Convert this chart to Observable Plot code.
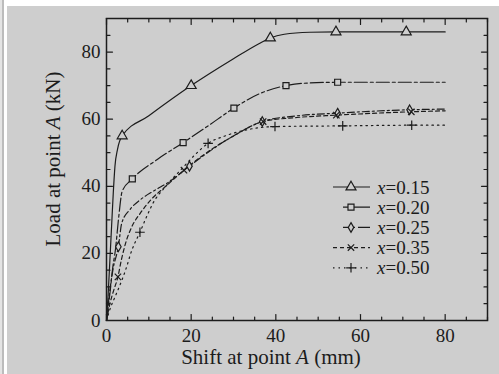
<!DOCTYPE html>
<html><head><meta charset="utf-8">
<script src="https://cdn.jsdelivr.net/npm/d3@7"></script>
<script src="https://cdn.jsdelivr.net/npm/@observablehq/plot@0.6"></script>
<style>
html,body{margin:0;padding:0;background:#fff;width:499px;height:374px;overflow:hidden;}
#bg{position:absolute;left:7px;top:6px;width:492px;height:368px;background:#cecece;}
#s1{position:absolute;left:0;top:0;width:2px;height:374px;background:#e4e4e4;}
#s2{position:absolute;left:2px;top:0;width:2px;height:374px;background:#bcbcbc;}
#chart{position:absolute;left:0;top:0;}
#chart svg, #chart svg text, #chart svg tspan{font-family:"Liberation Serif","Times New Roman",serif !important;}
</style></head>
<body>
<div id="bg"></div><div id="s1"></div><div id="s2"></div>
<div id="chart"></div>
<script>
// ---- data ----
const seriesLabels = ["0.15", "0.20", "0.25", "0.35", "0.50"];
const shift015 = [0, 0.4, 0.8, 1.2, 1.6, 2.0, 2.6, 3.7, 10, 20, 30, 36, 38.7, 42, 48, 54.2, 70.8, 80];
const load015  = [0, 8, 18, 28, 38, 46, 51, 55, 61, 70, 78, 82.5, 84.2, 85.3, 85.9, 86, 86, 86];
const shift020 = [0, 0.8, 1.5, 2.1, 2.9, 3.7, 6.1, 12, 18.1, 24, 30.1, 36, 42.4, 48, 54.6, 80];
const load020  = [0, 8, 16, 21, 31, 38.5, 42.2, 48, 53, 58, 63.3, 67.5, 70, 70.8, 71, 71];
const shift025 = [0, 0.7, 1.5, 2.8, 3.6, 5.5, 8, 11, 15, 19.6, 25, 30, 36.8, 45, 54.6, 71.6, 80];
const load025  = [0, 8, 15, 22, 29, 33, 36, 38.5, 41.5, 46, 51, 55, 59.3, 61, 61.8, 62.8, 63];
const shift035 = [0, 0.8, 1.7, 2.7, 3.5, 4.5, 6, 8, 10.5, 14, 18, 22, 26, 30, 37, 45, 54.3, 72, 80];
const load035  = [0, 5, 9, 13, 18, 23, 28, 32, 36, 40, 44.5, 48.5, 52, 55, 59.3, 60.5, 61.2, 62.2, 62.5];
const shift050 = [0, 1, 2, 3, 4.5, 6, 7.9, 9.5, 11, 14, 18, 21, 24, 28, 33, 39.8, 55.8, 72.1, 80];
const load050  = [0, 4, 7, 10, 15, 21, 26.3, 31, 35, 40, 45.5, 49.5, 52.8, 55, 56.8, 57.8, 58, 58.2, 58.2];
// marker positions
const mShift015 = [3.7, 20, 38.7, 54.2, 70.8];
const mLoad015  = [55, 70, 84.2, 86, 86];
const mShift020 = [6.1, 18.1, 30.1, 42.4, 54.6];
const mLoad020  = [42.2, 53, 63.3, 70, 71];
const mShift025 = [2.8, 19.6, 36.8, 54.6, 71.6];
const mLoad025  = [22, 46, 59.3, 61.8, 62.8];
const mShift035 = [2.7, 18.3, 37, 54.3, 72];
const mLoad035  = [13, 44.8, 59.3, 61.2, 62.2];
const mShift050 = [7.9, 24, 39.8, 55.8, 72.1];
const mLoad050  = [26.3, 52.8, 57.8, 58, 58.2];
// ticks
const xTickLabels = [0, 20, 40, 60, 80];
const yTickLabels = [0, 20, 40, 60, 80];
const minorTicks = [0, 5, 10, 15, 20, 25, 30, 35, 40, 45, 50, 55, 60, 65, 70, 75, 80, 85, 90];
const xTitle = ["Shift at point ", "A", " (mm)"];
const yTitle = ["Load at point ", "A", " (kN)"];

// ---- styling ----
const dashes = [null, "13,3,3,3", "7,3,2,3", "4,3", "1.5,4"];
const symbols = ["triangle", "square", "diamond", "times", "plus"];
const radii = [3.7, 3.4, 2.9, 3.0, 3.2];
const ink = "#1c1c1c";
const bgc = "#cecece";

const lineX = [shift015, shift020, shift025, shift035, shift050];
const lineY = [load015, load020, load025, load035, load050];
const mX = [mShift015, mShift020, mShift025, mShift035, mShift050];
const mY = [mLoad015, mLoad020, mLoad025, mLoad035, mLoad050];

const marks = [];
seriesLabels.forEach((s, i) => {
  const rows = lineX[i].map((x, j) => ({shift: x, load: lineY[i][j]}));
  marks.push(Plot.line(rows, {x: "shift", y: "load", curve: "monotone-x", stroke: ink, strokeWidth: 1.2,
    strokeDasharray: dashes[i] || undefined}));
});
seriesLabels.forEach((s, i) => {
  const rows = mX[i].map((x, j) => ({shift: x, load: mY[i][j]}));
  marks.push(Plot.dot(rows, {x: "shift", y: "load", symbol: symbols[i], r: radii[i], stroke: ink, strokeWidth: 1.2,
    fill: (symbols[i] === "times" || symbols[i] === "plus") ? "none" : bgc}));
});
// inward ticks on all four sides
const tickShape = {draw(context, l) { context.moveTo(0, 0); context.lineTo(0, -l); }};
const minorOnly = minorTicks.filter(v => v % 20 !== 0);
const majorTicks = minorTicks.filter(v => v % 20 === 0);
const sides = [
  {anchor: "bottom", rotate: 0, horiz: true},
  {anchor: "top", rotate: 180, horiz: true},
  {anchor: "left", rotate: 90, horiz: false},
  {anchor: "right", rotate: 270, horiz: false}
];
for (const sd of sides) {
  for (const [vals, len] of [[minorOnly, 3.5], [majorTicks, 6]]) {
    const ch = sd.horiz ? {x: d => d} : {y: d => d};
    marks.push(Plot.vector(vals, {...ch, frameAnchor: sd.anchor, rotate: sd.rotate, length: len, anchor: "start",
      shape: tickShape, stroke: ink, strokeWidth: 1.2}));
  }
}
marks.push(Plot.axisX(xTickLabels, {anchor: "bottom", tickSize: 0, tickPadding: 8, label: null, fontSize: 19, fill: ink}));
marks.push(Plot.axisY(yTickLabels, {anchor: "left", tickSize: 0, tickPadding: 6, label: null, fontSize: 19, fill: ink}));
marks.push(Plot.frame({stroke: ink, strokeWidth: 1.5}));

const chart = Plot.plot({
  width: 499, height: 374,
  marginLeft: 106, marginRight: 12, marginTop: 18, marginBottom: 54,
  x: {domain: [0, 90]}, y: {domain: [0, 90]},
  style: {background: "transparent", fontSize: "19px", color: ink},
  marks
});
document.getElementById("chart").appendChild(chart);

// ---- titles and legend (text elements) ----
const svg = d3.select(chart);
function title(parts, x, y, rot) {
  const t = svg.append("text").attr("text-anchor", "middle").attr("font-size", 21).attr("fill", ink)
    .attr("transform", `translate(${x},${y})${rot ? " rotate(-90)" : ""}`);
  parts.forEach((p, k) => t.append("tspan").attr("font-style", k === 1 ? "italic" : "normal").text(p));
  return t;
}
title(xTitle, 271, 364, false);
title(yTitle, 60, 159, true);

const symMap = {triangle: d3.symbolTriangle, square: d3.symbolSquare, diamond: d3.symbolDiamond, times: d3.symbolTimes, plus: d3.symbolPlus};
const legendDash = [null, "5,3,40,0", "5,3,4,3,40,0", "4,3", "1.5,4"];
const LX = 333, LY = 187;
seriesLabels.forEach((s, i) => {
  const yy = LY + i * 20.2;
  const x0 = (i === 1 || i === 2) ? LX + 10 : LX;
  svg.append("line").attr("x1", x0).attr("x2", LX + 37).attr("y1", yy).attr("y2", yy)
    .attr("stroke", ink).attr("stroke-width", 1.2).attr("stroke-dasharray", legendDash[i]);
  svg.append("path").attr("transform", `translate(${LX + 18},${yy})`)
    .attr("d", d3.symbol(symMap[symbols[i]], Math.PI * radii[i] * radii[i])())
    .attr("stroke", ink).attr("stroke-width", 1.2)
    .attr("fill", (symbols[i] === "times" || symbols[i] === "plus") ? "none" : bgc);
  const t = svg.append("text").attr("x", LX + 44).attr("y", yy).attr("dy", "0.35em")
    .attr("text-anchor", "start").attr("font-size", 19).attr("fill", ink);
  t.append("tspan").attr("font-style", "italic").text("x");
  t.append("tspan").text("=" + s);
});
</script>
</body></html>
